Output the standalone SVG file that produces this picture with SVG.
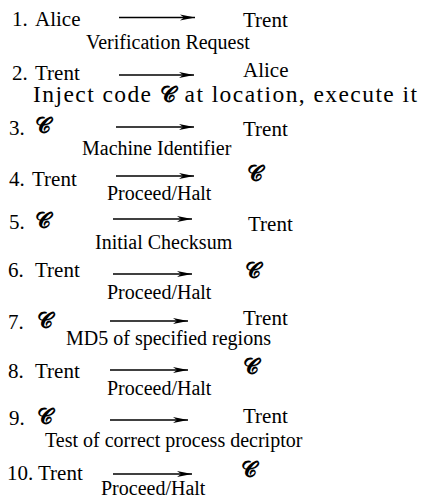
<svg xmlns="http://www.w3.org/2000/svg" width="427" height="499" viewBox="0 0 427 499">
<style>
  .lbl { font-family: "Liberation Serif", "Times New Roman", serif; font-size: 21px; fill: #000; }
  .desc { font-family: "Liberation Serif", "Times New Roman", serif; font-size: 20px; fill: #000; }
  .cm { font-family: "Liberation Serif", "Times New Roman", serif; font-size: 23.5px; fill: #000; }
  .sc { font-family: "DejaVu Serif", "DejaVu Sans", serif; font-size: 22px; font-weight: bold; fill: #000; }
  .arr { stroke: #000; stroke-width: 1.3; fill: none; marker-end: url(#ah); }
</style>
<defs>
  <marker id="ah" markerUnits="userSpaceOnUse" markerWidth="16" markerHeight="8" viewBox="0 0 16 8" refX="15" refY="4" orient="auto">
    <path d="M0,1 L15,4 L0,7 L4,4 Z" fill="#000"/>
  </marker>
</defs>
<g id="connectors">
  <line class="arr" x1="119" y1="17.5" x2="195" y2="17.5"/>
  <line class="arr" x1="119" y1="75" x2="194" y2="75"/>
  <line class="arr" x1="116" y1="127" x2="194" y2="127"/>
  <line class="arr" x1="116" y1="176" x2="194" y2="176"/>
  <line class="arr" x1="113" y1="219" x2="192" y2="219"/>
  <line class="arr" x1="113" y1="274" x2="192" y2="274"/>
  <line class="arr" x1="110" y1="321" x2="188" y2="321"/>
  <line class="arr" x1="110" y1="370" x2="188" y2="370"/>
  <line class="arr" x1="110" y1="420" x2="188" y2="420"/>
  <line class="arr" x1="113" y1="474" x2="192" y2="474"/>
</g>
<g id="step1">
  <text class="lbl" x="12" y="26">1.</text><text class="lbl" x="35" y="26">Alice</text>
  <text class="lbl" x="243" y="27">Trent</text>
  <text class="desc" x="86" y="49">Verification Request</text>
</g>
<g id="step2">
  <text class="lbl" x="12" y="80">2.</text><text class="lbl" x="35" y="80">Trent</text>
  <text class="lbl" x="243" y="77">Alice</text>
  <text class="cm" x="33" y="102" textLength="384" lengthAdjust="spacing">Inject code <tspan class="sc">𝒞</tspan> at location, execute it</text>
</g>
<g id="step3">
  <text class="lbl" x="9" y="135">3.</text><text class="sc" x="35" y="133">𝒞</text>
  <text class="lbl" x="243" y="136">Trent</text>
  <text class="desc" x="82" y="155">Machine Identifier</text>
</g>
<g id="step4">
  <text class="lbl" x="9" y="186">4.</text><text class="lbl" x="32" y="186">Trent</text>
  <text class="sc" x="247" y="181">𝒞</text>
  <text class="desc" x="107" y="200">Proceed/Halt</text>
</g>
<g id="step5">
  <text class="lbl" x="9" y="229">5.</text><text class="sc" x="35" y="228">𝒞</text>
  <text class="lbl" x="248" y="231">Trent</text>
  <text class="desc" x="95" y="249">Initial Checksum</text>
</g>
<g id="step6">
  <text class="lbl" x="8" y="277">6.</text><text class="lbl" x="35" y="277">Trent</text>
  <text class="sc" x="245" y="278">𝒞</text>
  <text class="desc" x="107" y="299">Proceed/Halt</text>
</g>
<g id="step7">
  <text class="lbl" x="8" y="329">7.</text><text class="sc" x="37" y="328">𝒞</text>
  <text class="lbl" x="243" y="325">Trent</text>
  <text class="desc" x="66" y="345">MD5 of specified regions</text>
</g>
<g id="step8">
  <text class="lbl" x="8" y="378">8.</text><text class="lbl" x="35" y="378">Trent</text>
  <text class="sc" x="243" y="374">𝒞</text>
  <text class="desc" x="107" y="395">Proceed/Halt</text>
</g>
<g id="step9">
  <text class="lbl" x="9" y="425">9.</text><text class="sc" x="37" y="424">𝒞</text>
  <text class="lbl" x="243" y="423">Trent</text>
  <text class="desc" x="45" y="447">Test of correct process decriptor</text>
</g>
<g id="step10">
  <text class="lbl" x="7" y="480">10.</text><text class="lbl" x="38" y="480">Trent</text>
  <text class="sc" x="241" y="477">𝒞</text>
  <text class="desc" x="101" y="495">Proceed/Halt</text>
</g>
</svg>
